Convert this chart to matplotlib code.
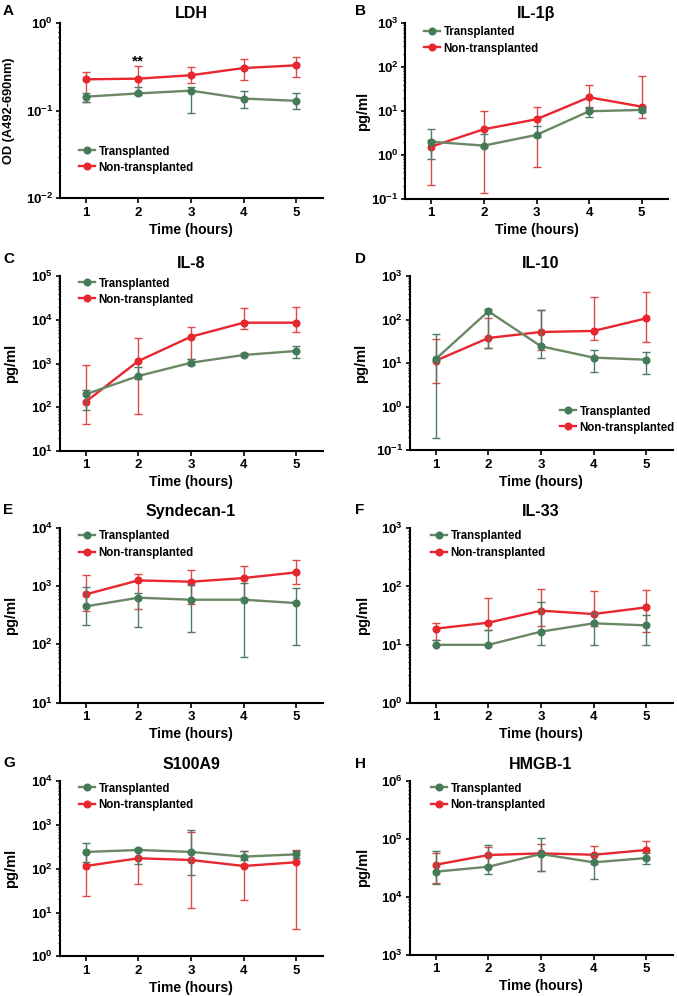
import numpy as np
import matplotlib
matplotlib.use("Agg")
import matplotlib.pyplot as plt
from matplotlib import transforms as mtransforms

plt.rcParams['font.family'] = ['Liberation Sans', 'DejaVu Sans']
plt.rcParams['font.weight'] = 'bold'
plt.rcParams['mathtext.default'] = 'regular'

hours = [1, 2, 3, 4, 5]
legend_labels = ['Transplanted', 'Non-transplanted']

# LDH (OD)
ldh_trans = [0.145, 0.158, 0.170, 0.138, 0.130]
ldh_trans_lo = [0.126, 0.151, 0.094, 0.107, 0.105]
ldh_trans_hi = [0.161, 0.189, 0.189, 0.168, 0.158]
ldh_non = [0.229, 0.233, 0.255, 0.308, 0.331]
ldh_non_lo = [0.126, 0.166, 0.206, 0.225, 0.241]
ldh_non_hi = [0.275, 0.328, 0.314, 0.391, 0.408]

# IL-1b
il1b_trans = [2.0, 1.63, 2.86, 9.9, 10.6]
il1b_trans_lo = [0.81, 1.5, 2.5, 7.5, 9.6]
il1b_trans_hi = [3.9, 2.97, 4.66, 12.2, 12.2]
il1b_non = [1.55, 3.85, 6.5, 20.6, 12.6]
il1b_non_lo = [0.207, 0.135, 0.525, 12.0, 6.85]
il1b_non_hi = [2.2, 10.2, 12.6, 38.7, 64]

# IL-8
il8_trans = [197, 517, 1042, 1567, 1936]
il8_trans_lo = [86, 436, 910, 1450, 1358]
il8_trans_hi = [247, 845, 1290, 1700, 2510]
il8_non = [133, 1143, 4120, 8630, 8630]
il8_non_lo = [40, 69.5, 1250, 6280, 5280]
il8_non_hi = [925, 3780, 6760, 18450, 19450]

# IL-10
il10_trans = [12.6, 157, 24.6, 13.5, 12.1]
il10_trans_lo = [0.19, 22.5, 13.3, 6.3, 5.7]
il10_trans_hi = [48, 174, 165, 20.3, 18.5]
il10_non = [11.5, 38.2, 52.5, 55.4, 108]
il10_non_lo = [3.5, 22.5, 20, 35, 31]
il10_non_hi = [36.9, 110, 165, 329, 436]

# Syndecan-1
synd_trans = [448, 631, 583, 583, 511]
synd_trans_lo = [212, 198, 163, 61, 97.5]
synd_trans_hi = [975, 769, 1050, 1110, 930]
synd_non = [720, 1250, 1186, 1371, 1715]
synd_non_lo = [373, 409, 485, 615, 1070]
synd_non_hi = [1545, 1627, 1880, 2230, 2750]

# IL-33
il33_trans = [9.9, 9.9, 16.7, 23.2, 21.4]
il33_trans_lo = [9.9, 9.9, 9.9, 9.9, 9.9]
il33_trans_hi = [11.8, 17.8, 54, 35.3, 32.7]
il33_non = [18.8, 23.8, 38.3, 33.5, 43.7]
il33_non_lo = [11.8, 17.8, 20.9, 21, 16.7]
il33_non_hi = [23.5, 64, 89, 84.6, 86.6]

# S100A9
s100_trans = [243, 269, 243, 190, 214]
s100_trans_lo = [146, 130, 72, 162, 180]
s100_trans_hi = [389, 300, 772, 250, 250]
s100_non = [116, 174, 159, 116, 141]
s100_non_lo = [23.5, 45, 12.7, 19, 4.3]
s100_non_hi = [243, 270, 683, 251, 262]

# HMGB-1
hmgb_trans = [27000, 32900, 54400, 39100, 46400]
hmgb_trans_lo = [16700, 24900, 27700, 20200, 37100]
hmgb_trans_hi = [60500, 76800, 101000, 54400, 55800]
hmgb_non = [35600, 52300, 55800, 52900, 63800]
hmgb_non_lo = [17400, 33600, 27700, 37000, 44900]
hmgb_non_hi = [55800, 71000, 80000, 74800, 91200]

panels = [
    ('A', 'LDH', 'OD (A492-690nm)', (1e-2, 1e0),
     ldh_trans, ldh_trans_lo, ldh_trans_hi, ldh_non, ldh_non_lo, ldh_non_hi),
    ('B', 'IL-1β', 'pg/ml', (1e-1, 1e3),
     il1b_trans, il1b_trans_lo, il1b_trans_hi, il1b_non, il1b_non_lo, il1b_non_hi),
    ('C', 'IL-8', 'pg/ml', (1e1, 1e5),
     il8_trans, il8_trans_lo, il8_trans_hi, il8_non, il8_non_lo, il8_non_hi),
    ('D', 'IL-10', 'pg/ml', (1e-1, 1e3),
     il10_trans, il10_trans_lo, il10_trans_hi, il10_non, il10_non_lo, il10_non_hi),
    ('E', 'Syndecan-1', 'pg/ml', (1e1, 1e4),
     synd_trans, synd_trans_lo, synd_trans_hi, synd_non, synd_non_lo, synd_non_hi),
    ('F', 'IL-33', 'pg/ml', (1e0, 1e3),
     il33_trans, il33_trans_lo, il33_trans_hi, il33_non, il33_non_lo, il33_non_hi),
    ('G', 'S100A9', 'pg/ml', (1e0, 1e4),
     s100_trans, s100_trans_lo, s100_trans_hi, s100_non, s100_non_lo, s100_non_hi),
    ('H', 'HMGB-1', 'pg/ml', (1e3, 1e6),
     hmgb_trans, hmgb_trans_lo, hmgb_trans_hi, hmgb_non, hmgb_non_lo, hmgb_non_hi),
]

# layout in pixels (figure is 677 x 996)
W, H = 677, 996
# left, top, width, height of each axes
boxes = [(59.5, 23.3, 263, 175), (405, 23.3, 263, 175.5),
         (59.5, 276.3, 263, 174.4), (409.5, 276.3, 263, 174),
         (59.5, 527.7, 263, 175), (409.5, 528.3, 263, 174.4),
         (59.5, 781.3, 263, 175), (409.5, 780.7, 263, 174)]
# legend upper-left corner (handle start, top of first row)
legend_pos = [(79, 145.5), (424, 26.5), (79, 277.5), (560, 405.5),
              (79, 530.5), (431, 530.5), (79, 782.5), (431, 782.5)]
ylabel_right = [15, 370, 18, 368, 18, 370, 18, 370]
title_base = [18.3, 18.3, 268, 268, 516, 516, 769, 769]
letter_pos = [(3, 15), (355, 15), (3, 263), (355, 263),
              (3, 514), (355, 514), (3, 767), (355, 768)]

RED = '#e8262d'
RED_ERR = '#e04848'
GREEN_LINE = '#6b8865'
GREEN_MARK = '#437a58'
GREEN_ERR = '#4f7a63'

fig = plt.figure(figsize=(W / 100, H / 100), dpi=100)

for i, (letter, title, ylabel, ylim, tr, tr_lo, tr_hi, nt, nt_lo, nt_hi) in enumerate(panels):
    left, top, wd, ht = boxes[i]
    ax = fig.add_axes([left / W, 1 - (top + ht) / H, wd / W, ht / H])

    tr, tr_lo, tr_hi = np.array(tr), np.array(tr_lo), np.array(tr_hi)
    nt, nt_lo, nt_hi = np.array(nt), np.array(nt_lo), np.array(nt_hi)

    ax.errorbar(hours, nt, yerr=[nt - nt_lo, nt_hi - nt], fmt='none',
                ecolor=RED_ERR, elinewidth=1.0, capsize=2.8, capthick=1.0, zorder=2)
    l_non, = ax.plot(hours, nt, color=RED, lw=1.7, marker='o', ms=4.8,
                     mfc=RED, mec=RED, zorder=3)
    ax.errorbar(hours, tr, yerr=[tr - tr_lo, tr_hi - tr], fmt='none',
                ecolor=GREEN_ERR, elinewidth=1.0, capsize=2.8, capthick=1.0, zorder=4)
    l_tr, = ax.plot(hours, tr, color=GREEN_LINE, lw=1.7, marker='o', ms=4.8,
                    mfc=GREEN_MARK, mec=GREEN_MARK, zorder=5)

    ax.set_yscale('log')
    ax.set_ylim(*ylim)
    ax.set_xlim(0.5, 5.5)
    ax.set_xticks(hours)

    for side in ['top', 'right']:
        ax.spines[side].set_visible(False)
    for side in ['left', 'bottom']:
        ax.spines[side].set_linewidth(1.5)

    ax.tick_params(axis='x', which='major', length=3.5, width=1.2, pad=2.5, labelsize=9.5)
    ax.tick_params(axis='y', which='major', length=3, width=1.2, pad=1.5, labelsize=9.6)
    ax.tick_params(axis='y', which='minor', length=1.6, width=0.9)

    ax.set_xlabel('Time (hours)', fontsize=10, fontweight='bold', labelpad=3)
    ax.set_ylabel(ylabel, fontsize=9.2 if i == 0 else 10.5, fontweight='bold')
    trans = mtransforms.blended_transform_factory(fig.transFigure, ax.transAxes)
    ax.yaxis.set_label_coords(ylabel_right[i] / W, 0.5, transform=trans)

    fig.text((left + wd / 2) / W, 1 - title_base[i] / H, title, ha='center',
             va='baseline', fontsize=11.5, fontweight='bold')
    lx, ly = letter_pos[i]
    fig.text(lx / W, 1 - ly / H, letter, ha='left', va='baseline',
             fontsize=11, fontweight='bold')

    gx, gy = legend_pos[i]
    ax.legend([l_tr, l_non], legend_labels, loc='upper left',
              bbox_to_anchor=(gx / W, 1 - gy / H), bbox_transform=fig.transFigure,
              frameon=False, borderpad=0, borderaxespad=0, handlelength=1.4,
              handletextpad=0.3, labelspacing=0.35, fontsize=8.3)

    if letter == 'A':
        ax.text(2, 0.33, '**', ha='center', va='baseline', fontsize=11, fontweight='bold')

fig.savefig('out.png', dpi=100)
